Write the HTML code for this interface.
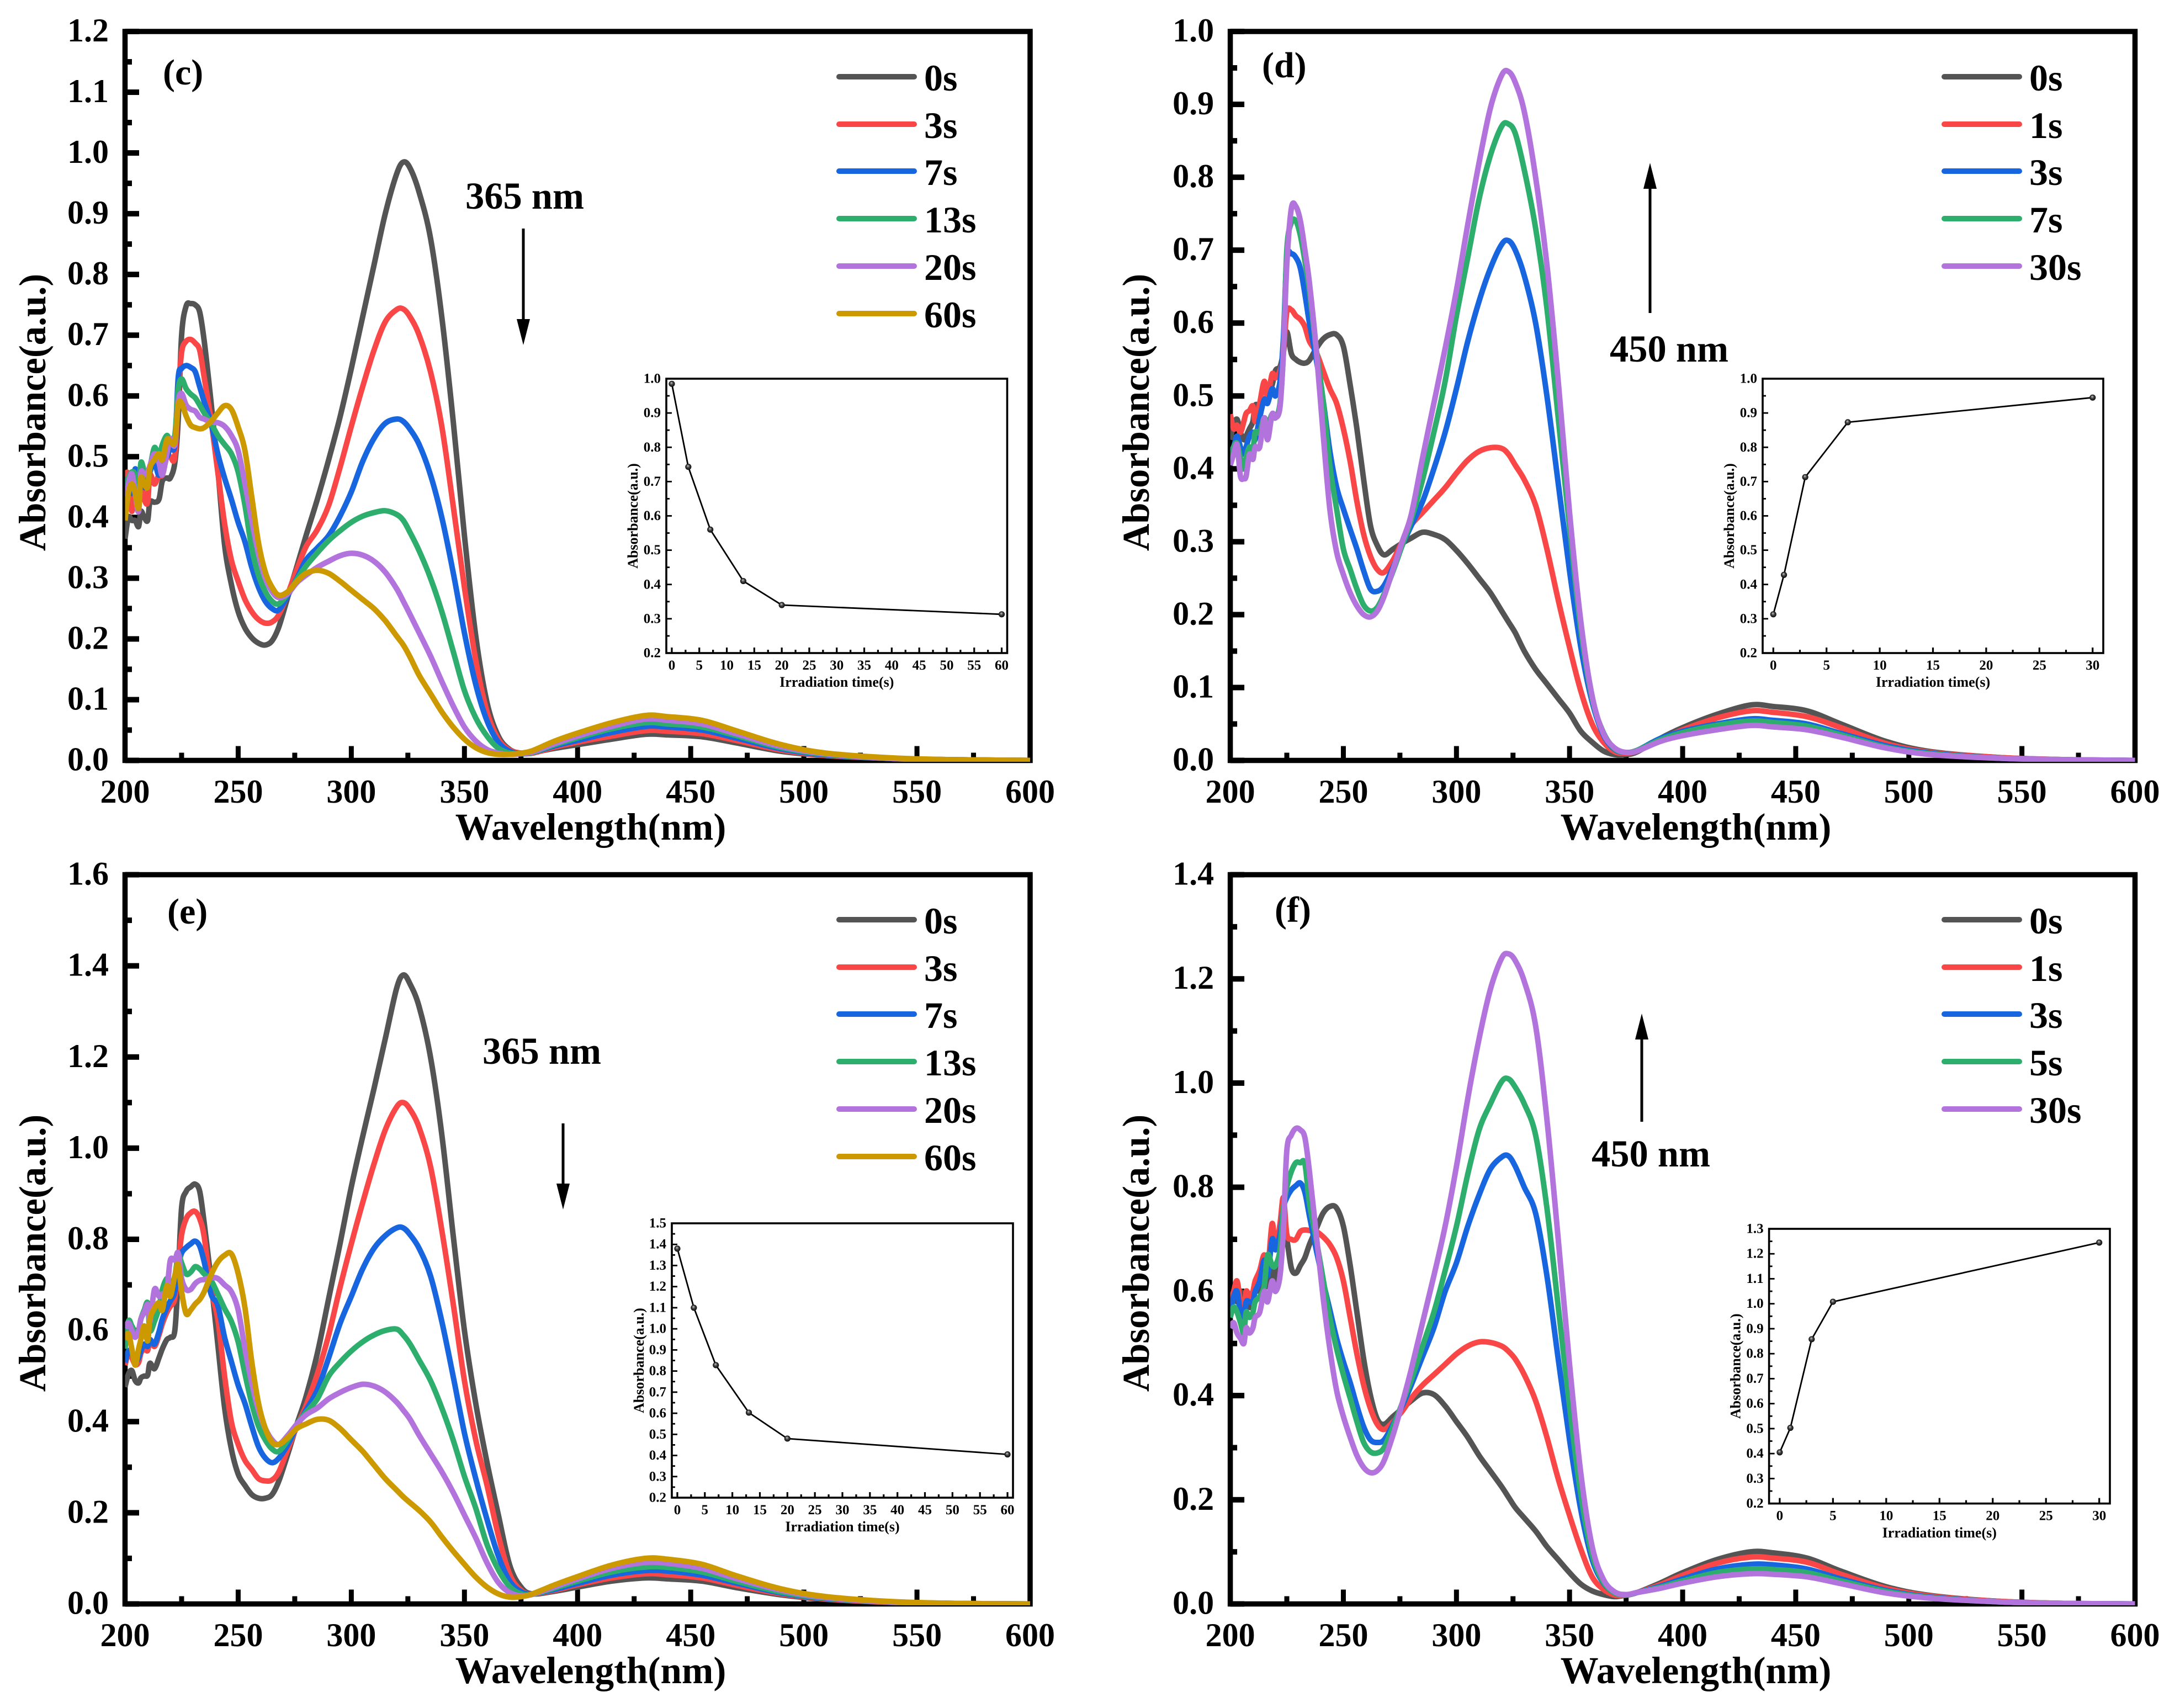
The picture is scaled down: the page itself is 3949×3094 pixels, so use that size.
<!DOCTYPE html>
<html lang="en">
<head>
<meta charset="utf-8">
<title>Absorbance spectra under irradiation</title>
<style>
html,body{margin:0;padding:0;background:#fff}
svg{display:block}
text{font-family:"Liberation Serif",serif;font-weight:bold;fill:#000}
.t{font-size:60px}
.ax{font-size:69px}
.ay{font-size:68.5px}
.lg{font-size:68px}
.an{font-size:68.5px}
.pl{font-size:66px}
.leg{stroke-width:10;stroke-linecap:round;fill:none}
.ia{font-size:26px}
</style>
</head>
<body>
<svg id="fig" xmlns="http://www.w3.org/2000/svg" width="3949" height="3094" viewBox="0 0 3949 3094">
<defs>
<radialGradient id="ball" cx="50%" cy="50%" r="55%" fx="42%" fy="32%">
<stop offset="0" stop-color="#d0d0d0"/><stop offset=".45" stop-color="#444"/><stop offset="1" stop-color="#000"/>
</radialGradient>
<clipPath id="clipC"><rect x="226.5" y="40" width="1640" height="1340"/></clipPath>
<clipPath id="clipD"><rect x="2228.6" y="40" width="1640" height="1340"/></clipPath>
<clipPath id="clipE"><rect x="226.5" y="1570" width="1640" height="1338"/></clipPath>
<clipPath id="clipF"><rect x="2228.6" y="1570" width="1640" height="1338"/></clipPath>
</defs>
<rect x="0" y="0" width="3949" height="3094" fill="#fff"/>

<!-- panel c static text -->
<g>
<text class="ax" x="1070" y="1521" text-anchor="middle">Wavelength(nm)</text>
<text class="ay" transform="translate(82 747) rotate(-90)" text-anchor="middle">Absorbance(a.u.)</text>
<text class="pl" x="295" y="153">(c)</text>
<text class="an" x="843" y="378">365 nm</text>
<g><rect x="945.5" y="414" width="5" height="166" fill="#000"/><polygon points="936,578 960,578 948,625" fill="#000"/></g>
</g>
<g>
<g><line class="leg" x1="1520" x2="1656" y1="139" y2="139" stroke="#545454"/><text class="lg" x="1674" y="164">0s</text></g>
<g><line class="leg" x1="1520" x2="1656" y1="225" y2="225" stroke="#F94646"/><text class="lg" x="1674" y="250">3s</text></g>
<g><line class="leg" x1="1520" x2="1656" y1="310" y2="310" stroke="#1766DF"/><text class="lg" x="1674" y="335">7s</text></g>
<g><line class="leg" x1="1520" x2="1656" y1="396" y2="396" stroke="#2EAE6D"/><text class="lg" x="1674" y="421">13s</text></g>
<g><line class="leg" x1="1520" x2="1656" y1="482" y2="482" stroke="#B273DC"/><text class="lg" x="1674" y="507">20s</text></g>
<g><line class="leg" x1="1520" x2="1656" y1="568" y2="568" stroke="#CC9900"/><text class="lg" x="1674" y="593">60s</text></g>
</g>

<!-- panel d static text -->
<g>
<text class="ax" x="3072" y="1521" text-anchor="middle">Wavelength(nm)</text>
<text class="ay" transform="translate(2081 747) rotate(-90)" text-anchor="middle">Absorbance(a.u.)</text>
<text class="pl" x="2286" y="140">(d)</text>
<text class="an" x="2916" y="655">450 nm</text>
<g><rect x="2986.5" y="340" width="5" height="227" fill="#000"/><polygon points="2977,342 3001,342 2989,295" fill="#000"/></g>
</g>
<g>
<g><line class="leg" x1="3522" x2="3658" y1="139" y2="139" stroke="#545454"/><text class="lg" x="3676" y="164">0s</text></g>
<g><line class="leg" x1="3522" x2="3658" y1="225" y2="225" stroke="#F94646"/><text class="lg" x="3676" y="250">1s</text></g>
<g><line class="leg" x1="3522" x2="3658" y1="310" y2="310" stroke="#1766DF"/><text class="lg" x="3676" y="335">3s</text></g>
<g><line class="leg" x1="3522" x2="3658" y1="396" y2="396" stroke="#2EAE6D"/><text class="lg" x="3676" y="421">7s</text></g>
<g><line class="leg" x1="3522" x2="3658" y1="482" y2="482" stroke="#B273DC"/><text class="lg" x="3676" y="507">30s</text></g>
</g>

<!-- panel e static text -->
<g>
<text class="ax" x="1070" y="3049" text-anchor="middle">Wavelength(nm)</text>
<text class="ay" transform="translate(82 2270) rotate(-90)" text-anchor="middle">Absorbance(a.u.)</text>
<text class="pl" x="303" y="1673">(e)</text>
<text class="an" x="874" y="1927">365 nm</text>
<g><rect x="1017.5" y="2035" width="5" height="112" fill="#000"/><polygon points="1008,2144 1032,2144 1020,2191" fill="#000"/></g>
</g>
<g>
<g><line class="leg" x1="1520" x2="1656" y1="1666" y2="1666" stroke="#545454"/><text class="lg" x="1674" y="1691">0s</text></g>
<g><line class="leg" x1="1520" x2="1656" y1="1752" y2="1752" stroke="#F94646"/><text class="lg" x="1674" y="1777">3s</text></g>
<g><line class="leg" x1="1520" x2="1656" y1="1837" y2="1837" stroke="#1766DF"/><text class="lg" x="1674" y="1862">7s</text></g>
<g><line class="leg" x1="1520" x2="1656" y1="1923" y2="1923" stroke="#2EAE6D"/><text class="lg" x="1674" y="1948">13s</text></g>
<g><line class="leg" x1="1520" x2="1656" y1="2009" y2="2009" stroke="#B273DC"/><text class="lg" x="1674" y="2034">20s</text></g>
<g><line class="leg" x1="1520" x2="1656" y1="2095" y2="2095" stroke="#CC9900"/><text class="lg" x="1674" y="2120">60s</text></g>
</g>

<!-- panel f static text -->
<g>
<text class="ax" x="3072" y="3049" text-anchor="middle">Wavelength(nm)</text>
<text class="ay" transform="translate(2081 2270) rotate(-90)" text-anchor="middle">Absorbance(a.u.)</text>
<text class="pl" x="2309" y="1670">(f)</text>
<text class="an" x="2883" y="2113">450 nm</text>
<g><rect x="2971.5" y="1880" width="5" height="152" fill="#000"/><polygon points="2962,1883 2986,1883 2974,1836" fill="#000"/></g>
</g>
<g>
<g><line class="leg" x1="3522" x2="3658" y1="1666" y2="1666" stroke="#545454"/><text class="lg" x="3676" y="1691">0s</text></g>
<g><line class="leg" x1="3522" x2="3658" y1="1752" y2="1752" stroke="#F94646"/><text class="lg" x="3676" y="1777">1s</text></g>
<g><line class="leg" x1="3522" x2="3658" y1="1837" y2="1837" stroke="#1766DF"/><text class="lg" x="3676" y="1862">3s</text></g>
<g><line class="leg" x1="3522" x2="3658" y1="1923" y2="1923" stroke="#2EAE6D"/><text class="lg" x="3676" y="1948">5s</text></g>
<g><line class="leg" x1="3522" x2="3658" y1="2009" y2="2009" stroke="#B273DC"/><text class="lg" x="3676" y="2034">30s</text></g>
</g>

<!-- inset static titles -->
<g class="ia">
<text x="1515.8" y="1244" text-anchor="middle" class="ia">Irradiation time(s)</text>
<text transform="translate(1155 934.5) rotate(-90)" text-anchor="middle" class="ia">Absorbance(a.u.)</text>
<text x="3501.5" y="1244" text-anchor="middle" class="ia">Irradiation time(s)</text>
<text transform="translate(3141 934.5) rotate(-90)" text-anchor="middle" class="ia">Absorbance(a.u.)</text>
<text x="1526" y="2774" text-anchor="middle" class="ia">Irradiation time(s)</text>
<text transform="translate(1166 2464.5) rotate(-90)" text-anchor="middle" class="ia">Absorbance(a.u.)</text>
<text x="3513.3" y="2785" text-anchor="middle" class="ia">Irradiation time(s)</text>
<text transform="translate(3152.6 2474.8) rotate(-90)" text-anchor="middle" class="ia">Absorbance(a.u.)</text>
</g>
</svg>

<script>
/* ---------- shared x categories (nm) ---------- */
const wavelengths = [200,201.5,203,204.5,206,207,208.5,210,211,213,215,216.5,218.5,220,222,223.5,
225,227,229,231,233,235,238,241,244,247,
250,253,256,259,262,265,268,272,276,280,
285,290,295,300,305,310,315,320,323,326,
330,335,340,345,350,355,360,365,370,375,
380,390,400,415,430,440,455,470,490,510,
540,570,600];

/* ---------- tick labels ---------- */
const xTickLabels = ["200","250","300","350","400","450","500","550","600"];
const xMinorTicks = ["225","275","325","375","425","475","525","575"];
const yTickLabelsC = ["0.0","0.1","0.2","0.3","0.4","0.5","0.6","0.7","0.8","0.9","1.0","1.1","1.2"];
const yTickLabelsD = ["0.0","0.1","0.2","0.3","0.4","0.5","0.6","0.7","0.8","0.9","1.0"];
const yTickLabelsE = ["0.0","0.2","0.4","0.6","0.8","1.0","1.2","1.4","1.6"];
const yTickLabelsF = ["0.0","0.2","0.4","0.6","0.8","1.0","1.2","1.4"];

/* ---------- panel (c) series ---------- */
const seriesC0 = [.365,.400,.395,.395,.385,.410,.400,.395,.425,.425,.430,.460,.465,.465,.490,.560,
.700,.748,.752,.750,.738,.690,.590,.480,.355,.290,
.245,.218,.202,.193,.190,.197,.220,.270,.320,.370,
.430,.495,.565,.645,.730,.815,.900,.965,.985,.975,
.935,.860,.730,.560,.370,.205,.095,.040,.018,.012,
.013,.020,.026,.035,.043,.042,.039,.029,.015,.008,
.003,.001,0];
const seriesC3 = [.47,.47,.41,.46,.42,.46,.43,.425,.47,.455,.47,.47,.50,.50,.50,.60,
.672,.690,.693,.687,.675,.630,.560,.475,.390,.330,
.295,.265,.245,.232,.226,.228,.240,.275,.315,.352,
.380,.420,.482,.550,.615,.675,.722,.742,.743,.730,
.700,.640,.550,.420,.285,.165,.080,.035,.017,.012,
.012,.022,.030,.040,.049,.048,.044,.033,.017,.008,
.003,.001,0];
const seriesC7 = [.46,.46,.44,.48,.45,.485,.45,.46,.475,.49,.47,.505,.50,.515,.52,.63,
.645,.650,.647,.640,.615,.590,.555,.505,.465,.430,
.392,.360,.318,.285,.262,.250,.248,.272,.300,.330,
.350,.370,.402,.442,.492,.530,.555,.562,.558,.545,
.520,.470,.400,.310,.210,.125,.065,.030,.015,.011,
.013,.024,.033,.046,.056,.055,.050,.037,.019,.009,
.003,.001,0];
const seriesC13 = [.45,.465,.475,.47,.44,.49,.475,.46,.48,.515,.50,.52,.535,.525,.535,.61,
.628,.612,.603,.597,.585,.572,.555,.535,.520,.505,
.475,.420,.350,.305,.278,.262,.258,.275,.298,.320,
.342,.362,.378,.392,.402,.408,.411,.405,.395,.375,
.345,.300,.245,.180,.115,.070,.040,.020,.012,.011,
.013,.026,.037,.052,.062,.060,.055,.041,.021,.010,
.003,.001,0];
const seriesC20 = [.43,.455,.472,.44,.41,.473,.47,.475,.485,.505,.49,.47,.505,.53,.52,.59,
.604,.585,.578,.575,.565,.562,.557,.556,.550,.535,
.510,.455,.395,.340,.300,.278,.268,.275,.293,.305,
.318,.328,.337,.341,.338,.328,.310,.283,.262,.240,
.210,.172,.130,.090,.055,.032,.018,.012,.010,.011,
.014,.028,.040,.056,.068,.066,.060,.044,.023,.011,
.003,.001,0];
const seriesC60 = [.395,.44,.455,.44,.415,.465,.455,.45,.482,.495,.505,.495,.528,.525,.525,.585,
.588,.567,.552,.548,.546,.548,.558,.572,.584,.578,
.549,.510,.434,.358,.310,.285,.272,.278,.295,.308,
.313,.308,.295,.280,.265,.250,.230,.205,.190,.170,
.140,.110,.080,.055,.035,.021,.013,.010,.010,.012,
.016,.032,.045,.062,.074,.072,.066,.049,.026,.012,
.004,.001,0];

/* ---------- panel (d) series ---------- */
const seriesD0 = [.44,.46,.468,.45,.44,.445,.455,.465,.487,.487,.495,.50,.515,.535,.54,.56,
.588,.558,.55,.546,.545,.549,.565,.578,.584,.584,
.568,.515,.455,.385,.322,.295,.282,.29,.298,.305,
.313,.31,.303,.288,.27,.25,.23,.205,.19,.175,
.15,.125,.105,.085,.065,.04,.025,.013,.008,.008,
.012,.03,.045,.063,.076,.074,.068,.05,.026,.012,
.004,.001,0];
const seriesD1 = [.475,.455,.46,.45,.465,.476,.48,.486,.465,.49,.52,.50,.53,.525,.535,.56,
.615,.618,.61,.605,.595,.575,.56,.535,.51,.49,
.455,.41,.355,.31,.28,.262,.258,.275,.30,.323,
.34,.357,.374,.394,.412,.424,.429,.428,.42,.405,
.385,.35,.29,.22,.155,.095,.05,.025,.012,.01,
.013,.028,.042,.058,.068,.066,.06,.045,.023,.011,
.004,.001,0];
const seriesD3 = [.425,.43,.445,.43,.42,.43,.445,.45,.44,.47,.495,.49,.51,.50,.52,.58,
.688,.695,.69,.675,.64,.60,.55,.495,.425,.375,
.345,.317,.29,.26,.235,.232,.24,.265,.295,.322,
.355,.40,.45,.51,.575,.63,.675,.708,.713,.70,
.665,.60,.50,.38,.26,.155,.08,.035,.015,.011,
.014,.03,.04,.05,.057,.055,.05,.037,.02,.01,
.003,.001,0];
const seriesD7 = [.41,.43,.435,.415,.40,.415,.43,.425,.45,.45,.47,.46,.475,.47,.49,.56,
.70,.738,.74,.72,.685,.645,.564,.495,.405,.345,
.29,.262,.235,.213,.205,.21,.228,.26,.295,.33,
.385,.45,.52,.61,.69,.77,.83,.87,.873,.86,
.81,.73,.62,.47,.32,.18,.085,.038,.016,.011,
.014,.028,.038,.048,.054,.052,.047,.035,.018,.009,
.003,.001,0];
const seriesD30 = [.405,.42,.433,.39,.387,.39,.42,.413,.43,.43,.47,.44,.475,.47,.485,.56,
.68,.757,.76,.74,.70,.655,.564,.45,.345,.286,
.255,.23,.212,.2,.197,.205,.225,.262,.30,.337,
.415,.49,.565,.645,.735,.82,.895,.94,.945,.93,
.89,.80,.68,.52,.34,.19,.088,.037,.017,.011,
.013,.026,.034,.042,.048,.046,.042,.032,.017,.008,
.003,.001,0];

/* ---------- panel (e) series ---------- */
const seriesE0 = [.476,.504,.512,.490,.485,.496,.500,.502,.528,.516,.54,.56,.58,.585,.60,.72,
.87,.905,.915,.921,.905,.835,.71,.57,.431,.34,
.285,.26,.24,.232,.232,.24,.27,.33,.395,.455,
.55,.67,.79,.915,1.025,1.13,1.24,1.35,1.38,1.36,
1.31,1.20,1.03,.81,.60,.44,.31,.195,.085,.037,
.022,.028,.037,.05,.057,.055,.05,.036,.02,.01,
.003,.001,0];
const seriesE3 = [.524,.55,.54,.525,.53,.55,.56,.556,.58,.565,.59,.615,.64,.653,.67,.74,
.81,.845,.858,.861,.845,.805,.69,.625,.50,.40,
.35,.315,.295,.275,.27,.272,.29,.34,.39,.435,
.505,.59,.694,.79,.88,.965,1.04,1.09,1.10,1.085,
1.045,.96,.82,.66,.49,.36,.26,.15,.065,.03,
.022,.03,.042,.057,.066,.064,.057,.041,.022,.011,
.003,.001,0];
const seriesE7 = [.53,.555,.55,.53,.54,.555,.57,.565,.58,.57,.597,.625,.65,.665,.685,.74,
.77,.782,.79,.796,.785,.75,.68,.655,.585,.532,
.48,.44,.39,.345,.32,.31,.32,.35,.39,.425,
.47,.54,.615,.675,.735,.78,.808,.825,.825,.81,
.78,.72,.62,.50,.375,.275,.185,.105,.05,.027,
.022,.032,.045,.063,.073,.072,.063,.046,.024,.012,
.004,.001,0];
const seriesE13 = [.56,.62,.61,.597,.60,.625,.645,.66,.60,.62,.65,.69,.714,.70,.72,.765,
.748,.724,.728,.74,.735,.724,.71,.68,.648,.62,
.575,.505,.44,.39,.36,.34,.335,.36,.395,.42,
.45,.50,.53,.555,.575,.59,.60,.603,.59,.57,
.535,.49,.43,.36,.28,.21,.13,.075,.038,.022,
.021,.035,.05,.07,.081,.08,.07,.05,.026,.013,
.004,.001,0];
const seriesE20 = [.605,.617,.60,.585,.60,.625,.64,.657,.62,.69,.675,.68,.69,.754,.755,.77,
.714,.69,.69,.703,.71,.712,.716,.714,.70,.685,
.645,.56,.485,.425,.385,.36,.35,.37,.395,.415,
.43,.45,.464,.475,.482,.478,.465,.443,.425,.405,
.37,.33,.29,.245,.195,.145,.09,.047,.025,.018,
.021,.038,.055,.078,.091,.089,.078,.056,.03,.014,
.004,.001,0];
const seriesE60 = [.58,.593,.56,.524,.56,.58,.61,.577,.625,.649,.661,.645,.698,.675,.72,.745,
.685,.637,.645,.658,.668,.685,.722,.75,.765,.768,
.725,.65,.532,.44,.385,.355,.35,.365,.385,.395,
.405,.403,.385,.36,.335,.305,.275,.25,.235,.222,
.205,.18,.147,.116,.087,.059,.037,.022,.015,.016,
.022,.042,.06,.085,.10,.098,.087,.062,.033,.016,
.005,.001,0];

/* ---------- panel (f) series ---------- */
const seriesF0 = [.57,.60,.58,.60,.58,.60,.57,.58,.61,.60,.62,.61,.65,.62,.66,.72,
.70,.645,.635,.65,.665,.69,.72,.75,.763,.76,
.725,.65,.56,.47,.40,.355,.345,.36,.375,.39,
.405,.402,.38,.35,.32,.285,.255,.225,.205,.185,
.165,.14,.11,.085,.06,.038,.025,.018,.014,.017,
.022,.04,.06,.085,.10,.098,.088,.063,.033,.016,
.005,.001,0];
const seriesF1 = [.58,.60,.62,.58,.56,.60,.59,.60,.62,.64,.67,.64,.73,.68,.73,.78,
.71,.70,.70,.715,.718,.717,.715,.705,.69,.665,
.62,.55,.48,.42,.375,.345,.335,.35,.37,.395,
.42,.44,.46,.48,.495,.503,.502,.495,.485,.47,
.44,.39,.32,.24,.17,.105,.052,.028,.017,.017,
.022,.037,.055,.078,.09,.088,.08,.057,.03,.015,
.005,.001,0];
const seriesF3 = [.56,.59,.60,.56,.55,.58,.58,.58,.60,.62,.66,.63,.70,.68,.71,.76,
.78,.795,.803,.808,.79,.745,.68,.62,.565,.51,
.465,.425,.38,.34,.315,.31,.315,.345,.38,.42,
.475,.53,.60,.655,.725,.785,.835,.858,.86,.84,
.80,.75,.63,.47,.315,.18,.085,.04,.021,.017,
.022,.034,.048,.067,.076,.075,.067,.048,.026,.013,
.004,.001,0];
const seriesF5 = [.55,.57,.56,.54,.52,.56,.55,.56,.58,.59,.61,.67,.65,.65,.68,.76,
.80,.83,.847,.847,.845,.77,.70,.625,.55,.49,
.44,.395,.35,.31,.292,.29,.30,.34,.385,.43,
.495,.56,.64,.725,.825,.91,.96,1.003,1.008,.992,
.96,.90,.76,.57,.38,.21,.095,.042,.021,.017,
.022,.032,.044,.06,.067,.066,.06,.044,.024,.012,
.004,.001,0];
const seriesF30 = [.53,.54,.52,.51,.50,.53,.52,.53,.55,.56,.60,.58,.62,.60,.63,.72,
.87,.90,.913,.91,.895,.83,.71,.59,.49,.41,
.36,.32,.285,.262,.252,.256,.275,.325,.385,.45,
.54,.63,.725,.84,.97,1.085,1.18,1.24,1.248,1.235,
1.195,1.11,.93,.70,.46,.25,.11,.047,.023,.018,
.022,.03,.04,.052,.058,.057,.052,.039,.021,.011,
.004,.001,0];

/* ---------- inset data ---------- */
const insetTimesC = [0,3,7,13,20,60];
const insetValuesC = [.985,.743,.56,.41,.34,.313];
const insetTimesD = [0,1,3,7,30];
const insetValuesD = [.313,.428,.713,.873,.945];
const insetTimesE = [0,3,7,13,20,60];
const insetValuesE = [1.38,1.10,.828,.603,.48,.405];
const insetTimesF = [0,1,3,5,30];
const insetValuesF = [.405,.503,.858,1.008,1.245];
const insetXLabels60 = ["0","5","10","15","20","25","30","35","40","45","50","55","60"];
const insetXLabels30 = ["0","5","10","15","20","25","30"];
const insetYLabelsCD = ["0.2","0.3","0.4","0.5","0.6","0.7","0.8","0.9","1.0"];
const insetYLabelsE = ["0.2","0.3","0.4","0.5","0.6","0.7","0.8","0.9","1.0","1.1","1.2","1.3","1.4","1.5"];
const insetYLabelsF = ["0.2","0.3","0.4","0.5","0.6","0.7","0.8","0.9","1.0","1.1","1.2","1.3"];

/* ---------- style ---------- */
const COLORS = {gray:"#545454",red:"#F94646",blue:"#1766DF",green:"#2EAE6D",purple:"#B273DC",gold:"#CC9900"};

const panels = [
 {id:"c",box:{l:226.5,r:1866,t:57,b:1377.5},yMax:1.2,yLabels:yTickLabelsC,
  curves:[["0s",seriesC0,COLORS.gray],["3s",seriesC3,COLORS.red],["7s",seriesC7,COLORS.blue],["13s",seriesC13,COLORS.green],["20s",seriesC20,COLORS.purple],["60s",seriesC60,COLORS.gold]],
  inset:{box:{l:1207,r:1824.5,t:686,b:1183},xMax:61,yMin:.2,yMax:1.0,t:insetTimesC,v:insetValuesC,xl:insetXLabels60,yl:insetYLabelsCD}},
 {id:"d",box:{l:2228.6,r:3867.5,t:57,b:1377.5},yMax:1.0,yLabels:yTickLabelsD,
  curves:[["0s",seriesD0,COLORS.gray],["1s",seriesD1,COLORS.red],["3s",seriesD3,COLORS.blue],["7s",seriesD7,COLORS.green],["30s",seriesD30,COLORS.purple]],
  inset:{box:{l:3193,r:3810,t:686,b:1183},xMax:31,yMin:.2,yMax:1.0,t:insetTimesD,v:insetValuesD,xl:insetXLabels30,yl:insetYLabelsCD}},
 {id:"e",box:{l:226.5,r:1866,t:1584.5,b:2905.5},yMax:1.6,yLabels:yTickLabelsE,
  curves:[["0s",seriesE0,COLORS.gray],["3s",seriesE3,COLORS.red],["7s",seriesE7,COLORS.blue],["13s",seriesE13,COLORS.green],["20s",seriesE20,COLORS.purple],["60s",seriesE60,COLORS.gold]],
  inset:{box:{l:1217,r:1835,t:2216,b:2713},xMax:61,yMin:.2,yMax:1.5,t:insetTimesE,v:insetValuesE,xl:insetXLabels60,yl:insetYLabelsE}},
 {id:"f",box:{l:2228.6,r:3867.5,t:1584.5,b:2905.5},yMax:1.4,yLabels:yTickLabelsF,
  curves:[["0s",seriesF0,COLORS.gray],["1s",seriesF1,COLORS.red],["3s",seriesF3,COLORS.blue],["5s",seriesF5,COLORS.green],["30s",seriesF30,COLORS.purple]],
  inset:{box:{l:3204.6,r:3822,t:2226,b:2723.6},xMax:31,yMin:.2,yMax:1.3,t:insetTimesF,v:insetValuesF,xl:insetXLabels30,yl:insetYLabelsF}}
];

const svg = document.getElementById("fig");
const NS = "http://www.w3.org/2000/svg";

function node(tag, parent, attrs){
  const el = document.createElementNS(NS, tag);
  for (const k in attrs) el.setAttribute(k, attrs[k]);
  parent.appendChild(el);
  return el;
}

function spline(pts){
  let d = "M" + pts[0][0].toFixed(1) + " " + pts[0][1].toFixed(1);
  for (let i = 0; i < pts.length - 1; i++){
    const p0 = pts[Math.max(0, i - 1)], p1 = pts[i], p2 = pts[i + 1], p3 = pts[Math.min(pts.length - 1, i + 2)];
    const c1x = p1[0] + (p2[0] - p0[0]) / 6, c1y = p1[1] + (p2[1] - p0[1]) / 6;
    const c2x = p2[0] - (p3[0] - p1[0]) / 6, c2y = p2[1] - (p3[1] - p1[1]) / 6;
    d += "C" + c1x.toFixed(1) + " " + c1y.toFixed(1) + " " + c2x.toFixed(1) + " " + c2y.toFixed(1) + " " + p2[0].toFixed(1) + " " + p2[1].toFixed(1);
  }
  return d;
}

function drawPanel(p){
  const b = p.box;
  const xs = nm => b.l + (nm - 200) / 400 * (b.r - b.l);
  const ys = a => b.b - a / p.yMax * (b.b - b.t);
  const g = node("g", svg, {});
  
  

  /* x ticks */
  xTickLabels.forEach(lbl => {
    const v = parseFloat(lbl), x = xs(v);
    const tick = node("rect", g, {x:x - 4.5, y:b.b - 26, width:9, height:26, fill:"#000"});
    
    
    const t = node("text", g, {x:x, y:b.b + 76.5, "text-anchor":"middle", class:"t"});
    
    
    t.textContent = lbl;
  });
  xMinorTicks.forEach(lbl => {
    const x = xs(parseFloat(lbl));
    const tick = node("rect", g, {x:x - 4.5, y:b.b - 14, width:9, height:14, fill:"#000"});
    
    
  });

  /* y ticks */
  p.yLabels.forEach((lbl, i) => {
    const v = parseFloat(lbl), y = ys(v);
    const tick = node("rect", g, {x:b.l, y:y - 5, width:25.5, height:10, fill:"#000"});
    
    
    const t = node("text", g, {x:b.l - 29.5, y:y + 18, "text-anchor":"end", class:"t"});
    
    
    t.textContent = lbl;
    if (i < p.yLabels.length - 1){
      const m = ys((v + parseFloat(p.yLabels[i + 1])) / 2);
      const mt = node("rect", g, {x:b.l, y:m - 5, width:12.5, height:10, fill:"#000"});
      
      
    }
  });

  /* frame */
  const frame = node("rect", g, {x:b.l, y:b.t, width:b.r - b.l, height:b.b - b.t, fill:"none", stroke:"#000", "stroke-width":9.5});
  
  

  /* curves */
  const cg = node("g", g, {"clip-path":"url(#clip" + p.id.toUpperCase() + ")"});
  
  
  p.curves.forEach(c => {
    const pts = c[1].map((a, i) => [xs(wavelengths[i]), ys(a)]);
    const path = node("path", cg, {d:spline(pts), fill:"none", stroke:c[2], "stroke-width":10, "stroke-linejoin":"round", "stroke-linecap":"butt"});
    
    
  });

  drawInset(p, g);
}

function drawInset(p, parent){
  const n = p.inset, b = n.box;
  const xs = t => b.l + (t + 1) / (n.xMax + 1) * (b.r - b.l);
  const ys = a => b.b - (a - n.yMin) / (n.yMax - n.yMin) * (b.b - b.t);
  const g = node("g", parent, {});
  
  

  n.xl.forEach((lbl, i) => {
    const v = parseFloat(lbl), x = xs(v);
    const tick = node("rect", g, {x:x - 1.6, y:b.b - 10, width:3.2, height:10, fill:"#000"});
    
    
    const t = node("text", g, {x:x, y:b.b + 30, "text-anchor":"middle", "font-size":25});
    
    
    t.textContent = lbl;
    if (i < n.xl.length - 1){
      const m = xs((v + parseFloat(n.xl[i + 1])) / 2);
      const mt = node("rect", g, {x:m - 1.6, y:b.b - 6, width:3.2, height:6, fill:"#000"});
      
      
    }
  });
  n.yl.forEach((lbl, i) => {
    const v = parseFloat(lbl), y = ys(v);
    const tick = node("rect", g, {x:b.l, y:y - 1.4, width:10, height:2.8, fill:"#000"});
    
    
    const t = node("text", g, {x:b.l - 10, y:y + 7.5, "text-anchor":"end", "font-size":25});
    
    
    t.textContent = lbl;
    if (i < n.yl.length - 1){
      const m = ys((v + parseFloat(n.yl[i + 1])) / 2);
      const mt = node("rect", g, {x:b.l, y:m - 1.4, width:6, height:2.8, fill:"#000"});
      
      
    }
  });
  const frame = node("rect", g, {x:b.l, y:b.t, width:b.r - b.l, height:b.b - b.t, fill:"none", stroke:"#000", "stroke-width":3.6});
  
  

  const pts = n.t.map((t, i) => xs(t).toFixed(1) + "," + ys(n.v[i]).toFixed(1)).join(" ");
  const line = node("polyline", g, {points:pts, fill:"none", stroke:"#000", "stroke-width":2.8, "stroke-linejoin":"round"});
  
  
  n.t.forEach((t, i) => {
    const c = node("circle", g, {cx:xs(t), cy:ys(n.v[i]), r:5.6, fill:"url(#ball)"});
    
    
  });
}

panels.forEach(drawPanel);
</script>
</body>
</html>
